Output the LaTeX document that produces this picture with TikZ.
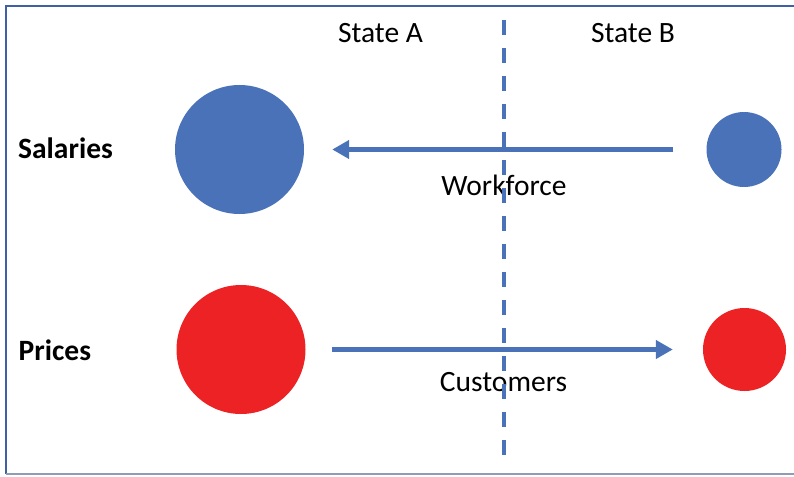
\documentclass[tikz,border=0pt]{standalone}
\usepackage{fontspec}
\setmainfont{Carlito}
\usetikzlibrary{arrows.meta}
\definecolor{dotblue}{HTML}{4A72B8}
\definecolor{dotred}{HTML}{ED2224}
\definecolor{frameblue}{HTML}{3F5FA6}
\definecolor{framegrey}{HTML}{8E9CB8}

\begin{document}
\begin{tikzpicture}[
  x=1pt, y=-1pt,
  font=\fontsize{29.5}{35}\selectfont,
  bigdot/.style={circle, inner sep=0pt, minimum size=129pt},
  bluedot/.style={fill=dotblue},
  reddot/.style={fill=dotred},
  rowlabel/.style={anchor=base west, inner sep=0pt, font=\fontsize{29.5}{35}\selectfont\bfseries},
  toplabel/.style={anchor=base, inner sep=0pt},
  flowlabel/.style={anchor=base, inner sep=0pt},
  flow/.style={-{Triangle[length=17pt, width=18pt]}, line width=5pt, draw=dotblue},
  divider/.style={draw=dotblue, line width=3.5pt, dash pattern=on 15pt off 13pt}
]

\useasboundingbox (0,0) rectangle (794,476);

\draw[frameblue, line width=2.5pt] (794,6) -- (6,6) -- (6,474);
\draw[framegrey, line width=1.5pt] (6,474) -- (794,474);

\node[toplabel] (stateA) at (380.5,43) {State A};
\node[toplabel] (stateB) at (633,43) {State B};

\node[rowlabel] (salaries) at (18,158) {Salaries};
\node[rowlabel] (prices) at (18.5,360) {Prices};

\node[bigdot, bluedot] (salA) at (239.5,149.5) {};
\node[bigdot, bluedot, minimum size=75pt] (salB) at (744,149.5) {};
\node[bigdot, reddot] (priA) at (241,349.5) {};
\node[bigdot, reddot, minimum size=83pt] (priB) at (744.5,349.5) {};

\draw[flow, shorten <=33pt, shorten >=28pt] (salB) -- (salA);
\draw[flow, shorten <=26pt, shorten >=30pt] (priA) -- (priB);

\node[flowlabel] (workforce) at (504,195) {Workforce};
\node[flowlabel] (customers) at (503.5,391) {Customers};

\coordinate (divtop) at (504,20);
\coordinate (divbot) at (504,456);
\draw[divider] (divtop) -- (divbot);

\end{tikzpicture}
\end{document}
